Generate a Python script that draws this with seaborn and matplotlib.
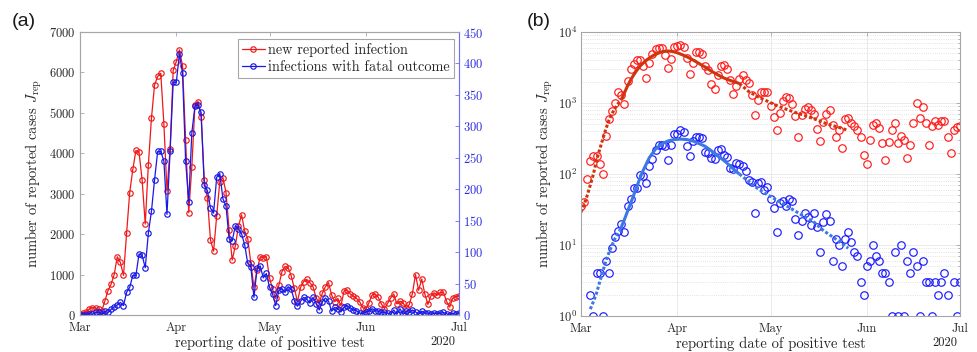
import numpy as np
import pandas as pd
import matplotlib
matplotlib.use("Agg")
import matplotlib.pyplot as plt
import matplotlib.dates as mdates
from matplotlib.ticker import LogLocator, NullFormatter, MultipleLocator
import seaborn as sns

# daily reported cases, 1 Mar - 1 Jul 2020
start = "2020-03-01"
new_cases = [35, 40, 85, 150, 180, 180, 140, 100, 345, 600, 760, 1000, 1440, 1300, 980,
             2020, 3030, 3600, 4070, 4030, 3340, 2250, 3710, 4870, 5690, 5900, 5980, 4730, 3070, 4100,
             6050, 6270, 6560, 6170, 4330, 2530, 3670, 5190, 5280, 4890, 3340, 2890, 1860, 1580, 2450,
             3300, 3400, 3030, 2100, 1360, 1710, 2190, 2480, 2080, 1890, 1280, 685, 1110, 1440, 1420,
             1440, 920, 635, 410, 730, 1070, 1200, 1170, 965, 660, 330, 685, 825, 880, 800,
             700, 430, 290, 535, 700, 800, 495, 330, 410, 230, 595, 620, 520, 470, 410, 330,
             185, 140, 300, 490, 520, 440, 275, 160, 285, 420, 520, 275, 340, 300, 170, 260,
             530, 1000, 610, 890, 520, 260, 480, 550, 490, 560, 560, 335, 195, 420, 455, 470]
fatal_cases = [0, 0, 0, 2, 1, 4, 4, 1, 6, 4, 9, 13, 16, 20, 15,
               36, 44, 63, 63, 97, 95, 75, 130, 165, 215, 260, 260, 245, 160, 260,
               370, 370, 415, 385, 245, 180, 290, 332, 334, 322, 206, 198, 170, 162, 219,
               225, 185, 173, 121, 118, 142, 137, 129, 112, 82, 76, 28, 74, 78, 59,
               66, 44, 33, 15, 39, 42, 36, 45, 41, 23, 14, 22, 28, 25, 19,
               28, 18, 8, 21, 27, 22, 6, 12, 10, 5, 12, 15, 11, 8, 7,
               3, 2, 5, 6, 10, 7, 6, 4, 4, 3, 1, 8, 1, 10, 1,
               6, 4, 8, 5, 1, 6, 3, 3, 1, 3, 2, 3, 4, 2, 0,
               3, 1, 3]

# model curves in panel (b), read at day offsets from 1 Mar
red_pre_day = [0, 1, 2, 3, 4, 5, 6, 7, 8, 9, 10, 11, 12, 13]
red_pre_val = [29, 37, 50, 70, 100, 155, 220, 310, 430, 570, 710, 850, 985, 1115]
red_fit_day = [13, 14, 15, 16, 17, 18, 19, 20, 21, 22, 23, 24, 25, 26, 27, 28, 29, 30,
               31, 32, 34, 36, 38, 40, 42, 44, 46, 48, 50, 51]
red_fit_val = [1115, 1400, 1750, 2120, 2500, 2900, 3300, 3650, 4000, 4300, 4600, 4850, 5050,
               5250, 5350, 5400, 5350, 5250, 5100, 4900, 4500, 4050, 3600, 3200, 2800, 2500,
               2250, 2080, 1950, 1880]
red_post_day = [51, 54, 57, 60, 63, 66, 69, 72, 75, 78, 81, 84, 86]
red_post_val = [1880, 1450, 1220, 1060, 920, 820, 735, 665, 600, 530, 480, 440, 410]

blue_pre_day = [3, 4, 5, 6, 7, 8, 9, 10, 11, 12, 12.5]
blue_pre_val = [1.25, 1.6, 2.1, 3.0, 4.2, 5.9, 7.8, 10, 12.5, 15, 16]
blue_fit_day = [12.5, 14, 15, 16, 17, 18, 19, 20, 22, 24, 26, 28, 30, 32, 34, 36, 38, 40,
                42, 44, 46, 48, 50, 51]
blue_fit_val = [16, 23, 30, 39, 51, 67, 88, 112, 170, 225, 265, 292, 306, 310, 306, 292,
                268, 245, 212, 180, 155, 130, 108, 100]
blue_post_day = [51, 54, 57, 60, 63, 66, 69, 72, 75, 78, 81, 84, 86]
blue_post_val = [100, 78, 62, 51, 43, 36, 30, 25, 21, 16, 13, 10.5, 9]

t0 = pd.Timestamp(start)
days = pd.date_range(start, periods=len(new_cases), freq="D")


def to_dates(d):
    return t0 + pd.to_timedelta(np.array(d, dtype=float), unit="D")


sns.set_theme(style="white")
plt.rcParams["font.family"] = "serif"
plt.rcParams["font.serif"] = ["cmr10"]
plt.rcParams["mathtext.fontset"] = "cm"
plt.rcParams["axes.unicode_minus"] = False
plt.rcParams["axes.formatter.use_mathtext"] = True

spine_col = "#a6a6a6"
txt_col = "#262626"
red = "#f01818"
blue = "#1818e8"
tick_fs = 9
lab_fs = 10.5

fig = plt.figure(figsize=(9.77, 3.52), dpi=100)
ax_a = fig.add_axes([80 / 977, 37 / 352, 379 / 977, 283 / 352])
ax_b = fig.add_axes([581 / 977, 36 / 352, 379 / 977, 284 / 352])
ax_a2 = ax_a.twinx()

# ---- panel (a): linear, two y axes
sns.lineplot(x=days, y=new_cases, ax=ax_a, color=red, lw=0.9, marker="o", ms=3.9,
             mfc="none", mec=red, mew=0.85)
sns.lineplot(x=days, y=fatal_cases, ax=ax_a2, color=blue, lw=0.9, marker="o", ms=3.9,
             mfc="none", mec=blue, mew=0.85)

xlim = (pd.Timestamp("2020-03-01"), pd.Timestamp("2020-07-01"))
for ax in (ax_a, ax_a2, ax_b):
    ax.set_xlim(xlim)
    ax.xaxis.set_major_locator(mdates.MonthLocator())
    ax.xaxis.set_major_formatter(mdates.DateFormatter("%b"))

ax_a.set_ylim(0, 7000)
ax_a.yaxis.set_major_locator(MultipleLocator(1000))
ax_a2.set_ylim(0, 450)
ax_a2.yaxis.set_major_locator(MultipleLocator(50))

ax_a.tick_params(axis="both", direction="in", length=3, width=0.6, colors=spine_col,
                 labelcolor=txt_col, labelsize=tick_fs, top=True, pad=3)
ax_a.tick_params(axis="x", pad=5)
ax_a.tick_params(axis="y", right=False)
ax_a2.tick_params(axis="y", direction="in", length=3, width=0.6, colors="#6c6cff",
                  labelcolor="#2a2ae0", labelsize=tick_fs, pad=3)
for s in ax_a.spines.values():
    s.set_color(spine_col)
    s.set_linewidth(0.8)
for name, s in ax_a2.spines.items():
    s.set_color(spine_col)
    s.set_linewidth(0.8)
ax_a2.spines["right"].set_color("#6c6cff")
ax_a2.set_ylabel("")

ax_a.set_xlabel("reporting date of positive test", fontsize=lab_fs, color=txt_col, labelpad=1)
ax_a.set_ylabel(r"number of reported cases $J_{\rm rep}$", fontsize=lab_fs, color=txt_col,
                labelpad=4)
ax_a.text(0.99, -0.095, "2020", transform=ax_a.transAxes, ha="right", va="center",
          fontsize=tick_fs, color=txt_col)

leg = ax_a.legend([ax_a.lines[0], ax_a2.lines[0]],
                  ["new reported infection", "infections with fatal outcome"],
                  loc="upper right", bbox_to_anchor=(0.986, 0.977), borderaxespad=0,
                  fontsize=10.3, fancybox=False, framealpha=1, edgecolor=spine_col,
                  handlelength=1.6, handletextpad=0.2, borderpad=0.3, labelspacing=0.2,
                  numpoints=1)
leg.get_frame().set_linewidth(0.8)
ax_a2.set_zorder(ax_a.get_zorder() + 1)
ax_a2.patch.set_visible(False)
ax_a.legend_.remove()
ax_a2.add_artist(leg)

# ---- panel (b): log scale with model curves
fatal_log = [v if v > 0 else np.nan for v in fatal_cases]
sns.lineplot(x=days, y=new_cases, ax=ax_b, color=red, linestyle="none", marker="o", ms=5.4,
             mfc="none", mec="#ff1a1a", mew=0.85)
sns.lineplot(x=days, y=fatal_log, ax=ax_b, color=blue, linestyle="none", marker="o", ms=5.4,
             mfc="none", mec="#1a1aff", mew=0.85)

fit_red = "#d0340c"
fit_blue = "#3b78e2"
dot = (0, (1, 0.7))
for dd, vv, col, ls in [(red_pre_day, red_pre_val, fit_red, dot),
                        (red_fit_day, red_fit_val, fit_red, "-"),
                        (red_post_day, red_post_val, fit_red, dot),
                        (blue_pre_day, blue_pre_val, fit_blue, dot),
                        (blue_fit_day, blue_fit_val, fit_blue, "-"),
                        (blue_post_day, blue_post_val, fit_blue, dot)]:
    sns.lineplot(x=to_dates(dd), y=vv, ax=ax_b, color=col, lw=2.2, linestyle=ls,
                 dash_capstyle="butt", solid_capstyle="butt")

ax_b.set_yscale("log")
ax_b.set_ylim(1, 1e4)
ax_b.yaxis.set_major_locator(LogLocator(base=10, numticks=10))
ax_b.yaxis.set_minor_locator(LogLocator(base=10, subs=np.arange(2, 10), numticks=50))
ax_b.yaxis.set_minor_formatter(NullFormatter())
ax_b.grid(True, which="major", color="#e6e6e6", lw=0.6, ls="-")
ax_b.grid(True, which="minor", axis="y", color="#d9d9d9", lw=0.6, ls=":")
ax_b.set_axisbelow(True)
ax_b.tick_params(axis="both", which="both", direction="in", colors=spine_col,
                 labelcolor=txt_col, labelsize=tick_fs, top=True, right=True, width=0.6)
ax_b.tick_params(which="major", length=3)
ax_b.tick_params(which="minor", length=1.8)
ax_b.tick_params(axis="x", pad=5)
ax_b.tick_params(axis="y", pad=3)
for s in ax_b.spines.values():
    s.set_color(spine_col)
    s.set_linewidth(0.8)
ax_b.set_xlabel("reporting date of positive test", fontsize=lab_fs, color=txt_col, labelpad=1)
ax_b.set_ylabel(r"number of reported cases $J_{\rm rep}$", fontsize=lab_fs, color=txt_col,
                labelpad=2)
ax_b.text(0.992, -0.095, "2020", transform=ax_b.transAxes, ha="right", va="center",
          fontsize=tick_fs, color=txt_col)

fig.text(12 / 977, 1 - 22 / 352, "(a)", family="Liberation Sans", fontsize=14,
         va="center", ha="left", color="#1a1a1a")
fig.text(527 / 977, 1 - 22 / 352, "(b)", family="Liberation Sans", fontsize=14,
         va="center", ha="left", color="#1a1a1a")

fig.savefig("out.png", dpi=100, facecolor="white")
